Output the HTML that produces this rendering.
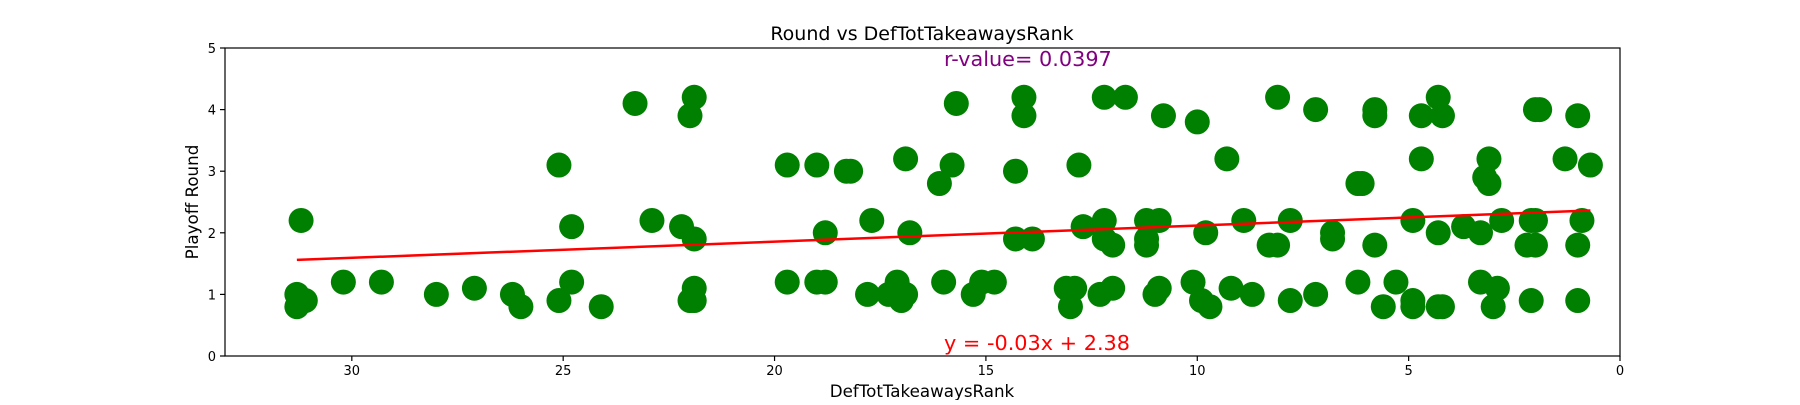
<!DOCTYPE html>
<html><head><meta charset="utf-8"><style>
html,body{margin:0;padding:0;background:#fff;}
svg text{font-family:"DejaVu Sans","Liberation Sans",sans-serif;}
</style></head><body>
<svg id="chart" width="1800" height="400" xmlns="http://www.w3.org/2000/svg">
<rect width="1800" height="400" fill="#fff"/>
<g id="points"></g>
<g id="axes"></g>
</svg>
<script>
const xValues=[31.3,31.3,31.1,31.2,30.2,29.3,28.0,27.1,26.2,26.0,25.1,25.1,24.8,24.8,24.1,23.3,22.9,22.2,22.0,22.0,21.9,21.9,21.9,21.9,19.7,19.7,19.0,19.0,18.8,18.8,18.3,18.2,17.8,17.7,17.3,17.1,17.0,16.9,16.9,16.8,16.1,16.0,15.8,15.7,15.3,15.1,14.8,14.3,14.3,14.1,14.1,13.9,13.1,13.0,12.9,12.8,12.7,12.3,12.2,12.2,12.2,12.0,12.0,11.7,11.2,11.2,11.2,11.0,10.9,10.9,10.8,10.1,10.0,9.9,9.8,9.7,9.3,9.2,8.9,8.7,8.3,8.1,8.1,7.8,7.8,7.2,7.2,6.8,6.8,6.2,6.2,6.1,5.8,5.8,5.8,5.6,5.3,4.9,4.9,4.9,4.7,4.7,4.3,4.3,4.3,4.2,4.2,3.7,3.3,3.3,3.2,3.1,3.1,3.0,2.9,2.8,2.2,2.1,2.1,2.0,2.0,1.9,2.0,1.3,1.0,1.0,1.0,0.9,0.7];
const yValues=[1.0,0.8,0.9,2.2,1.2,1.2,1.0,1.1,1.0,0.8,0.9,3.1,2.1,1.2,0.8,4.1,2.2,2.1,0.9,3.9,4.2,1.9,1.1,0.9,3.1,1.2,3.1,1.2,1.2,2.0,3.0,3.0,1.0,2.2,1.0,1.2,0.9,1.0,3.2,2.0,2.8,1.2,3.1,4.1,1.0,1.2,1.2,3.0,1.9,4.2,3.9,1.9,1.1,0.8,1.1,3.1,2.1,1.0,2.2,4.2,1.9,1.1,1.8,4.2,2.2,1.9,1.8,1.0,1.1,2.2,3.9,1.2,3.8,0.9,2.0,0.8,3.2,1.1,2.2,1.0,1.8,1.8,4.2,0.9,2.2,1.0,4.0,2.0,1.9,1.2,2.8,2.8,1.8,3.9,4.0,0.8,1.2,2.2,0.9,0.8,3.2,3.9,2.0,0.8,4.2,0.8,3.9,2.1,2.0,1.2,2.9,3.2,2.8,0.8,1.1,2.2,1.8,2.2,0.9,1.8,4.0,4.0,2.2,3.2,3.9,1.8,0.9,2.2,3.1];
const xTicks=[0,5,10,15,20,25,30];
const yTicks=[0,1,2,3,4,5];
const fitSlope=-0.0262, fitIntercept=2.38;
const fitRange=[31.3,0.7];

const L=225,R=1620,T=48,B=356,XMIN=33,XMAX=0,YMIN=0,YMAX=5;
const sx=v=>L+(v-XMIN)/(XMAX-XMIN)*(R-L);
const sy=v=>B-(v-YMIN)/(YMAX-YMIN)*(B-T);
const NS='http://www.w3.org/2000/svg';
function mk(tag,attrs,parent,text){const e=document.createElementNS(NS,tag);for(const k in attrs)e.setAttribute(k,attrs[k]);if(text!==undefined)e.textContent=text;parent.appendChild(e);return e;}
const pts=document.getElementById('points'),ax=document.getElementById('axes'),svg=document.getElementById('chart');
for(let i=0;i<xValues.length;i++){
 const c=mk('circle',{cx:sx(xValues[i]),cy:sy(yValues[i]),r:12.5,fill:'#008000'},pts);
 
 
}
const fl=mk('line',{x1:sx(fitRange[0]),y1:sy(fitIntercept+fitSlope*fitRange[0]),x2:sx(fitRange[1]),y2:sy(fitIntercept+fitSlope*fitRange[1]),stroke:'#ff0000','stroke-width':2.5},svg);


const fr=mk('rect',{x:L,y:T,width:R-L,height:B-T,fill:'none',stroke:'#000','stroke-width':1.2},ax);


xTicks.forEach(t=>{
 const x=sx(t);
 mk('line',{x1:x,y1:B,x2:x,y2:B+5,stroke:'#000','stroke-width':1.2},ax);
 const tx=mk('text',{x:x,y:B+19,'font-size':13,'text-anchor':'middle'},ax,String(t));
 
 
});
yTicks.forEach(t=>{
 const y=sy(t);
 mk('line',{x1:L-5,y1:y,x2:L,y2:y,stroke:'#000','stroke-width':1.2},ax);
 const tx=mk('text',{x:L-9,y:y+5,'font-size':13,'text-anchor':'end'},ax,String(t));
 
 
});
</script>
<svg width="1800" height="400" style="position:absolute;left:0;top:0" xmlns="http://www.w3.org/2000/svg">
<text x="922" y="40" font-size="19" text-anchor="middle" font-family="DejaVu Sans, Liberation Sans, sans-serif">Round vs DefTotTakeawaysRank</text>
<text x="944" y="66" font-size="20.8" fill="#800080" font-family="DejaVu Sans, Liberation Sans, sans-serif">r-value= 0.0397</text>
<text x="944" y="350" font-size="20.8" fill="#ff0000" font-family="DejaVu Sans, Liberation Sans, sans-serif">y = -0.03x + 2.38</text>
<text x="922" y="397" font-size="16.7" text-anchor="middle" font-family="DejaVu Sans, Liberation Sans, sans-serif">DefTotTakeawaysRank</text>
<text x="0" y="0" font-size="16.7" text-anchor="middle" transform="translate(198,202) rotate(-90)" font-family="DejaVu Sans, Liberation Sans, sans-serif">Playoff Round</text>
</svg>
</body></html>
